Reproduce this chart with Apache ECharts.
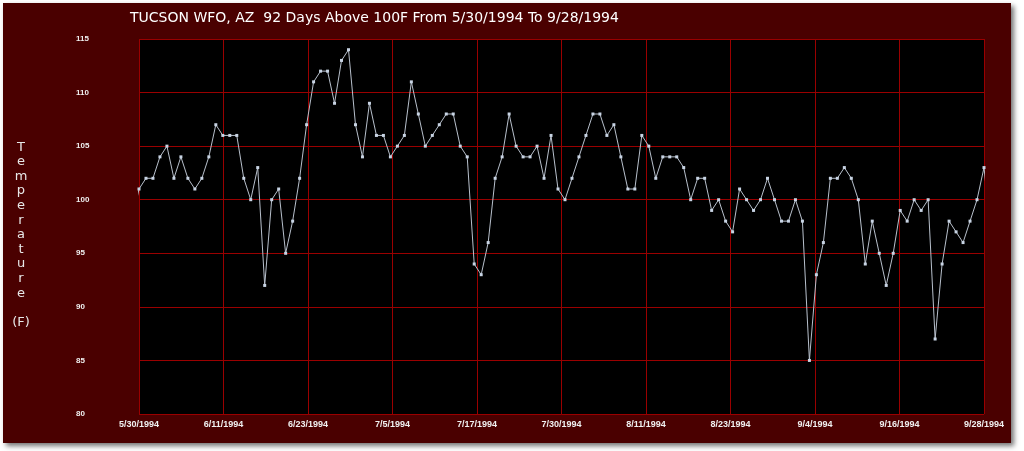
<!DOCTYPE html>
<html>
<head>
<meta charset="utf-8">
<script src="https://cdn.jsdelivr.net/npm/echarts@6/dist/echarts.min.js"></script>
<style>
html,body{margin:0;padding:0;background:#fff;}
#c{width:1024px;height:451px;}
</style>
</head>
<body>
<div id="c"></div>
<script>
const titleText = 'TUCSON WFO, AZ  92 Days Above 100F From 5/30/1994 To 9/28/1994';
const xTickLabels = ['5/30/1994','6/11/1994','6/23/1994','7/5/1994','7/17/1994','7/30/1994','8/11/1994','8/23/1994','9/4/1994','9/16/1994','9/28/1994'];
const yTicks = [80, 85, 90, 95, 100, 105, 110, 115];
// daily max temperatures, 5/30/1994 .. 9/28/1994 (index 0..121)
const temps = [
  101,102,102,104,105,102,104,102,101,102,104,107,106,106,106,102,100,103,92,100,101,95,98,102,107,111,112,112,109,113,114,
  107,104,109,106,106,104,105,106,111,108,105,106,107,108,108,105,104,94,93,96,102,104,108,105,104,104,105,102,106,101,
  100,102,104,106,108,108,106,107,104,101,101,106,105,102,104,104,104,103,100,102,102,99,100,98,97,101,100,99,100,102,
  100,98,98,100,98,85,93,96,102,102,103,102,100,94,98,95,92,95,99,98,100,99,100,87,94,98,97,96,98,100,103
];
// values of the days just outside the window (clipped at the plot edges)
const dayBefore = 98;
const dayAfter = 97;

const seriesData = [[-1, dayBefore]];
temps.forEach((t, i) => seriesData.push([i, t]));
seriesData.push([temps.length, dayAfter]);

const nDays = temps.length - 1;
const xInterval = nDays / (xTickLabels.length - 1);

const chart = echarts.init(document.getElementById('c'), null, {renderer: 'canvas'});
chart.setOption({
  backgroundColor: '#ffffff',
  animation: false,
  graphic: [
    {type: 'rect', z: -10, silent: true,
     shape: {x: 3, y: 3, width: 1008, height: 440},
     style: {fill: '#4a0000', shadowBlur: 5, shadowOffsetX: 3, shadowOffsetY: 3, shadowColor: 'rgba(0,0,0,0.55)'}},
    {type: 'text', left: 130, top: 11,
     style: {text: titleText, fill: '#ffffff', font: '14px "DejaVu Sans", Tahoma, sans-serif'}},
    {type: 'text', x: 21, y: 140,
     style: {text: 'T\ne\nm\np\ne\nr\na\nt\nu\nr\ne\n\n(F)', fill: '#e8e8e8', align: 'center',
             font: '13px "DejaVu Sans", Tahoma, sans-serif', lineHeight: 14.6}}
  ],
  grid: {left: 139, top: 39, right: 40, bottom: 37, show: true, backgroundColor: '#000000', borderWidth: 0},
  xAxis: {
    type: 'value', min: 0, max: nDays, interval: xInterval,
    axisLine: {show: false}, axisTick: {show: false},
    axisLabel: {
      color: '#f0f0f0', fontWeight: 'bold', fontSize: 9, fontFamily: '"Liberation Sans", Arial, sans-serif', margin: 6,
      formatter: v => xTickLabels[Math.round(v / xInterval)] || ''
    },
    splitLine: {show: true, lineStyle: {color: '#9a0000', width: 1}}
  },
  yAxis: {
    type: 'value', min: yTicks[0], max: yTicks[yTicks.length - 1], interval: 5,
    axisLine: {show: false}, axisTick: {show: false},
    axisLabel: {color: '#f0f0f0', fontWeight: 'bold', fontSize: 8, fontFamily: '"Liberation Sans", Arial, sans-serif',
                align: 'left', margin: 63},
    splitLine: {show: true, lineStyle: {color: '#9a0000', width: 1}}
  },
  series: [{
    type: 'line', data: seriesData, clip: true,
    symbol: 'rect', symbolSize: 3, showAllSymbol: true,
    lineStyle: {color: '#b8c0cc', width: 1},
    itemStyle: {color: '#c8d4e4'}
  }]
});
</script>
</body>
</html>
